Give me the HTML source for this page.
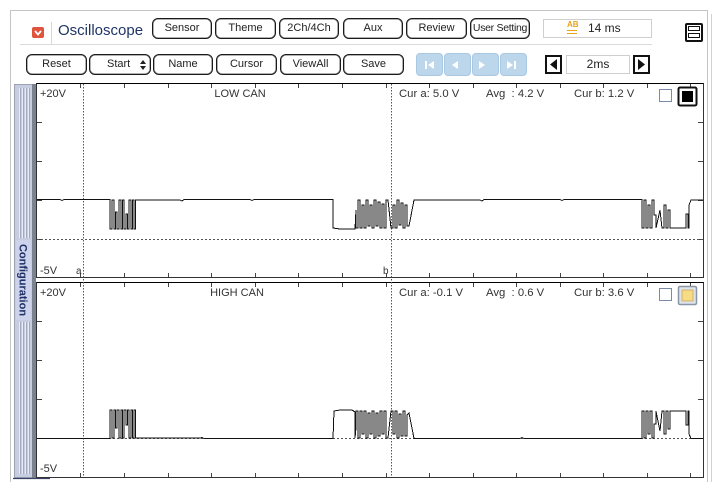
<!DOCTYPE html>
<html><head><meta charset="utf-8">
<style>
*{margin:0;padding:0;box-sizing:border-box}
body{width:720px;height:489px;background:#fff;position:relative;overflow:hidden;font-family:"Liberation Sans",sans-serif;color:#222}
.a{position:absolute}
.btn{position:absolute;height:21px;border:1.5px solid #1a1a1a;border-radius:6px;background:#fff;font-size:11px;line-height:18px;text-align:center;color:#222;box-shadow:inset 0 0 0 0.5px #666}
.bb{position:absolute;top:53px;height:23px;width:27px;background:#bcd6ec;border:1px solid #a9c9e3;border-radius:4px}
</style></head><body>
<!-- outer frame -->
<div class="a" style="left:10px;top:10px;width:698px;height:472px;border:1px solid #c4c4c4;border-bottom:none"></div>
<div class="a" style="left:711px;top:14px;width:1px;height:468px;background:#d0d0d0"></div>

<!-- header -->
<div class="a" style="left:32px;top:27px;width:12px;height:11px;background:#e0533d;border-radius:2px"></div>
<svg class="a" style="left:32px;top:27px" width="12" height="11"><path d="M3,4 L6,7.5 L9,4" fill="none" stroke="#fff" stroke-width="1.8"/></svg>
<div class="a" style="left:51px;top:22px;width:1px;height:22px;background:#d8d8d8"></div>
<div class="a" style="left:58px;top:22px;font-size:15px;color:#1f3566">Oscilloscope</div>
<div class="a" style="left:20px;top:44px;width:632px;height:1px;background:#dadada"></div>

<div class="btn" style="left:152px;top:18px;width:60px">Sensor</div>
<div class="btn" style="left:215px;top:18px;width:61px">Theme</div>
<div class="btn" style="left:279px;top:18px;width:60px">2Ch/4Ch</div>
<div class="btn" style="left:343px;top:18px;width:60px">Aux</div>
<div class="btn" style="left:406px;top:18px;width:61px">Review</div>
<div class="btn" style="left:470px;top:18px;width:60px;font-size:10.5px;letter-spacing:-0.3px">User Setting</div>

<div class="a" style="left:543px;top:19px;width:109px;height:19px;border:1px solid #cfcfcf"></div>
<div class="a" style="left:567px;top:21px;font-size:8px;font-weight:bold;color:#e6a21c;line-height:8px">AB</div>
<div class="a" style="left:567px;top:30px;width:10px;height:4px;border-top:1.5px solid #e6a21c;border-bottom:1.5px solid #e6a21c"></div>
<div class="a" style="left:588px;top:21px;font-size:12px;color:#222">14 ms</div>

<div class="a" style="left:685px;top:23px;width:18px;height:19px;border:2px solid #111;border-radius:2px;background:#fff"></div>
<div class="a" style="left:688px;top:26px;width:12px;height:5px;border:1.5px solid #111"></div>
<div class="a" style="left:688px;top:33px;width:12px;height:5px;border:1.5px solid #111"></div>

<!-- row 2 -->
<div class="btn" style="left:26px;top:54px;width:61px">Reset</div>
<div class="btn" style="left:89px;top:54px;width:62px;text-align:left;padding-left:17px">Start</div>
<svg class="a" style="left:139px;top:59px" width="8" height="12"><path d="M1,5 L4,1 L7,5Z M1,7 L4,11 L7,7Z" fill="#222"/></svg>
<div class="btn" style="left:153px;top:54px;width:60px">Name</div>
<div class="btn" style="left:216px;top:54px;width:61px">Cursor</div>
<div class="btn" style="left:280px;top:54px;width:61px">ViewAll</div>
<div class="btn" style="left:343px;top:54px;width:61px">Save</div>

<div class="bb" style="left:416px"></div>
<div class="bb" style="left:444px"></div>
<div class="bb" style="left:472px"></div>
<div class="bb" style="left:500px"></div>
<svg class="a" style="left:416px;top:53px" width="112" height="23">
<g fill="#fff"><rect x="9" y="8" width="2" height="8"/><path d="M18,8 L12,12 L18,16Z"/>
<path d="M42,8 L36,12 L42,16Z"/>
<path d="M63,8 L69,12 L63,16Z"/>
<path d="M91,8 L97,12 L91,16Z"/><rect x="98" y="8" width="2" height="8"/></g></svg>

<div class="a" style="left:545px;top:55px;width:17px;height:19px;border:2px solid #111"></div>
<svg class="a" style="left:545px;top:55px" width="17" height="19"><path d="M12,4 L5,9.5 L12,15Z" fill="#111"/></svg>
<div class="a" style="left:566px;top:55px;width:64px;height:19px;border:1px solid #cfcfcf;font-size:12px;text-align:center;line-height:17px">2ms</div>
<div class="a" style="left:633px;top:55px;width:17px;height:19px;border:2px solid #111"></div>
<svg class="a" style="left:633px;top:55px" width="17" height="19"><path d="M5,4 L12,9.5 L5,15Z" fill="#111"/></svg>

<svg class="a" style="left:0;top:0" width="720" height="489">
<!-- sidebar -->
<rect x="14.5" y="84.5" width="20" height="393" fill="#c7cde0" stroke="#9ca2b2"/>
<g stroke="#e9ecf4" stroke-width="1">
<line x1="19.5" y1="88" x2="19.5" y2="238"/><line x1="22.5" y1="88" x2="22.5" y2="238"/><line x1="25.5" y1="88" x2="25.5" y2="238"/><line x1="28.5" y1="88" x2="28.5" y2="238"/>
<line x1="19.5" y1="322" x2="19.5" y2="474"/><line x1="22.5" y1="322" x2="22.5" y2="474"/><line x1="25.5" y1="322" x2="25.5" y2="474"/><line x1="28.5" y1="322" x2="28.5" y2="474"/></g>
<g stroke="#a3aac0" stroke-width="1">
<line x1="20.5" y1="88" x2="20.5" y2="238"/><line x1="23.5" y1="88" x2="23.5" y2="238"/><line x1="26.5" y1="88" x2="26.5" y2="238"/><line x1="29.5" y1="88" x2="29.5" y2="238"/>
<line x1="20.5" y1="322" x2="20.5" y2="474"/><line x1="23.5" y1="322" x2="23.5" y2="474"/><line x1="26.5" y1="322" x2="26.5" y2="474"/><line x1="29.5" y1="322" x2="29.5" y2="474"/></g>
<rect x="16" y="240" width="15" height="80" fill="#cdd3ea"/>
<rect x="32" y="84" width="4" height="394" fill="#7d8290"/>
<line x1="13" y1="478.5" x2="50" y2="478.5" stroke="#3a4366" stroke-width="1.2"/>
<text x="0" y="0" transform="translate(19.5,280) rotate(90)" text-anchor="middle" font-family="Liberation Sans, sans-serif" font-size="11" font-weight="bold" fill="#1e2f66">Configuration</text>

<!-- panels -->
<rect x="36.5" y="83.5" width="667" height="194" fill="#fff" stroke="#333"/>
<rect x="36.5" y="282.5" width="667" height="195" fill="#fff" stroke="#333"/>
<line x1="36.5" y1="83.5" x2="703.5" y2="83.5" stroke="#000"/>
<line x1="36.5" y1="282.5" x2="703.5" y2="282.5" stroke="#000"/>

<!-- ticks -->
<g stroke="#444" stroke-width="1">
<path d="M80.5,84v4M124.5,84v4M168.5,84v4M211.5,84v4M255.5,84v4M298.5,84v4M342.5,84v4M386.5,84v4M429.5,84v4M473.5,84v4M516.5,84v4M560.5,84v4M603.5,84v4M647.5,84v4M690.5,84v4"/>
<path d="M80.5,277v-4M124.5,277v-4M168.5,277v-4M211.5,277v-4M255.5,277v-4M298.5,277v-4M342.5,277v-4M386.5,277v-4M429.5,277v-4M473.5,277v-4M516.5,277v-4M560.5,277v-4M603.5,277v-4M647.5,277v-4M690.5,277v-4"/>
<path d="M80.5,283v4M124.5,283v4M168.5,283v4M211.5,283v4M255.5,283v4M298.5,283v4M342.5,283v4M386.5,283v4M429.5,283v4M473.5,283v4M516.5,283v4M560.5,283v4M603.5,283v4M647.5,283v4M690.5,283v4"/>
<path d="M80.5,477v-4M124.5,477v-4M168.5,477v-4M211.5,477v-4M255.5,477v-4M298.5,477v-4M342.5,477v-4M386.5,477v-4M429.5,477v-4M473.5,477v-4M516.5,477v-4M560.5,477v-4M603.5,477v-4M647.5,477v-4M690.5,477v-4"/>
<path d="M37,122.5h5M37,161.5h5M37,200.5h5M37,239.5h5M698,122.5h5M698,161.5h5M698,200.5h5M698,239.5h5"/>
<path d="M37,321.5h5M37,360.5h5M37,399.5h5M37,438.5h5M698,321.5h5M698,360.5h5M698,399.5h5M698,438.5h5"/>
</g>

<!-- zero lines -->
<line x1="37" y1="239.5" x2="703" y2="239.5" stroke="#555" stroke-dasharray="2,2"/>
<line x1="37" y1="438.5" x2="703" y2="438.5" stroke="#555" stroke-dasharray="2,2"/>

<!-- cursors -->
<line x1="83.5" y1="84" x2="83.5" y2="477" stroke="#555" stroke-dasharray="1.5,1.5"/>
<line x1="391.5" y1="84" x2="391.5" y2="477" stroke="#555" stroke-dasharray="1.5,1.5"/>

<!-- traces -->
<g fill="none" stroke="#111" stroke-width="1" shape-rendering="crispEdges">
<path d="M37,199.5 H60 L62,200.5 L64,199.5 H110 V229 H112 V200 H114 V229 H115.5 V212 H117 V229 H119 V200 H121 V229 H122.5 V200 H124 V229 H126 V214 H127.5 V229 H129 V200 H131 V229 H132.5 V200 H134 V229 H135.5 V200 H180 L182,201 L184,199.5 H250 L252,200.5 L254,199.5 H333 V228 L340,229 H355 L356,210 V228 H358 V200 H360 V228 H362 V205 H364 V228 H366 V200 H368 V226 H370 V205 H372 V228 H374 V200 H376 V226 H378 V202 H380 V228 H382 V204 H384 V228 H386 V200 H388 L391,228 H393 V205 H395 V228 H397 V200 H399 V225 H401 V203 H403 V228 H405 V205 H407 V226 L409,226 L414,200 H480 L482,201 L484,199.5 H560 L562,200.5 L564,199.5 H642 V228 H644 V200 H646 V228 H648 V205 H650 V228 H652 V200 H654 V215 H656 V228 L660,210 L662,228 H664 V205 H666 V228 H668 V210 H670 V228 L674,228 H686 V214 H688 V228 H689 V205 L691,200 H703"/>
<path d="M37,438.5 H110 V410 H112 V438 H114 V410 H115.5 V428 H117 V410 H119 V438 H121 V410 H122.5 V438 H124 V410 H126 V425 H127.5 V410 H129 V438 H131 V410 H132.5 V438 H134 V410 H135.5 V438 H200 L202,437.5 L204,438.5 H333 L334,411 L340,410 H352 L355,412 V438 L356,428 V411 H358 V438 H360 V411 H362 V434 H364 V411 H366 V438 H368 V413 H370 V434 H372 V411 H374 V438 H376 V413 H378 V436 H380 V411 H382 V434 H384 V411 H386 V438 H388 L391,411 H393 V434 H395 V411 H397 V438 H399 V414 H401 V436 H403 V411 H405 V436 H407 V415 L409,413 L414,438.5 H520 L522,437.5 L524,438.5 H642 V411 H644 V438 H646 V411 H648 V434 H650 V411 H652 V438 H654 V424 H656 V411 L660,431 L662,411 H664 V434 H666 V411 H668 V429 H670 V411 L674,411 H686 V425 H688 V411 H689 V434 L691,438.5 H703"/>
</g>

<!-- labels -->
<g font-family="Liberation Sans, sans-serif" font-size="11" fill="#333">
<text x="40" y="97">+20V</text><text x="40" y="274">-5V</text>
<text x="240" y="97" text-anchor="middle">LOW CAN</text>
<text x="40" y="296">+20V</text><text x="40" y="472">-5V</text>
<text x="237" y="296" text-anchor="middle">HIGH CAN</text>
<text x="399" y="97" font-size="11.3">Cur a: 5.0 V</text>
<text x="486" y="97" font-size="11.3" xml:space="preserve">Avg  : 4.2 V</text>
<text x="574" y="97" font-size="11.3">Cur b: 1.2 V</text>
<text x="399" y="296" font-size="11.3">Cur a: -0.1 V</text>
<text x="486" y="296" font-size="11.3" xml:space="preserve">Avg  : 0.6 V</text>
<text x="574" y="296" font-size="11.3">Cur b: 3.6 V</text>
<text x="76" y="274" font-size="10">a</text>
<text x="383" y="274" font-size="10">b</text>
</g>

<!-- checkboxes -->
<rect x="659.5" y="89.5" width="12" height="12" fill="#fff" stroke="#7b8aa8"/>
<rect x="678.5" y="87.5" width="18" height="18" rx="1.5" fill="#fff" stroke="#111" stroke-width="2"/>
<rect x="682" y="91" width="11" height="11" fill="#000"/>
<rect x="659.5" y="288.5" width="12" height="12" fill="#fff" stroke="#7b8aa8"/>
<rect x="678.5" y="286.5" width="18" height="18" rx="1.5" fill="#dfe3ea" stroke="#8c95a6" stroke-width="1.5"/>
<rect x="682" y="290" width="11" height="11" fill="#f6dc85" stroke="#c9a860" stroke-width="0.8"/>
</svg>
</body></html>
